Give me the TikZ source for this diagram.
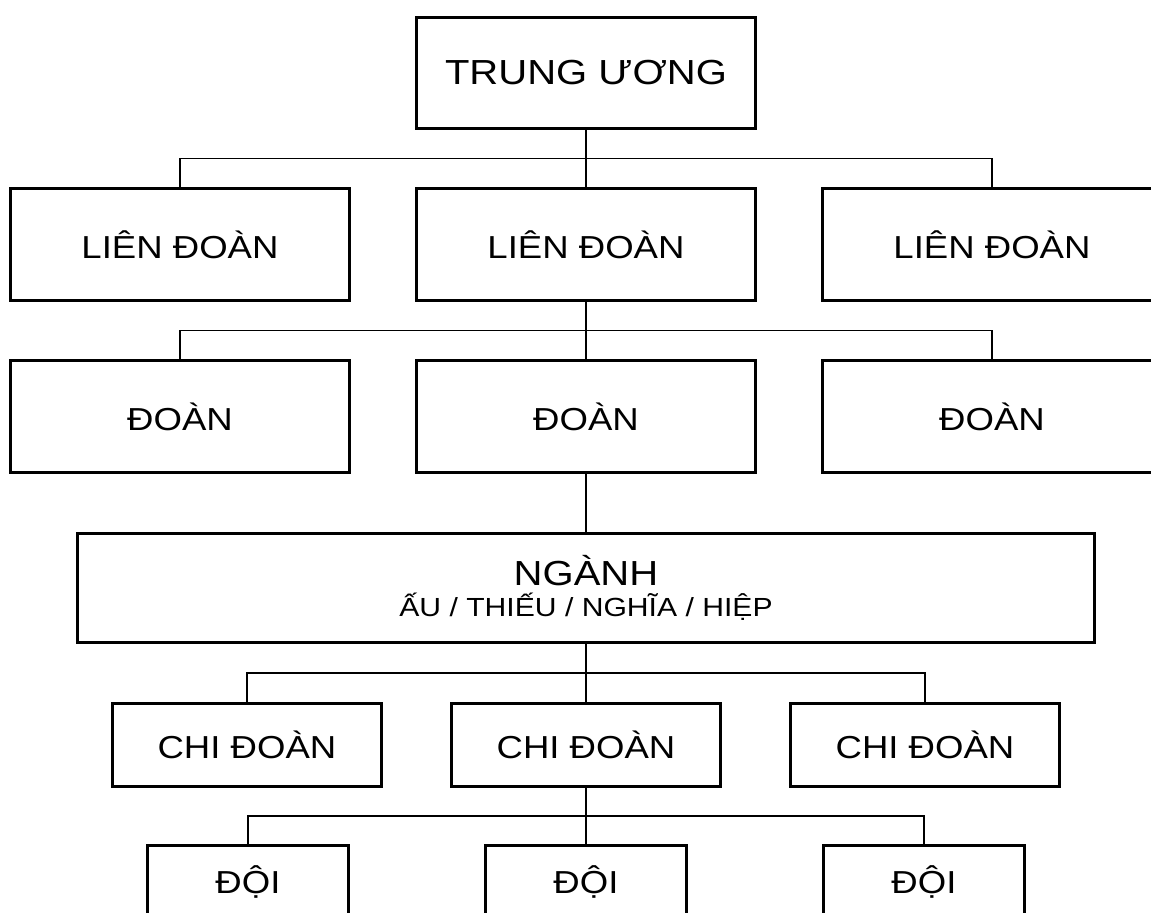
\documentclass[tikz,border=0pt]{standalone}
\usepackage{fontspec}
\setmainfont{Liberation Sans}[FakeStretch=1.15]
\usetikzlibrary{positioning}

\begin{document}
\begin{tikzpicture}[node distance=30pt and 33.5pt,
  b/.style={draw, line width=1.5pt, inner sep=0pt, outer sep=0pt, minimum width=169.5pt, minimum height=56pt, font=\fontsize{15.9}{18}\selectfont},
  n/.style={b, minimum width=508pt, minimum height=54.5pt, align=center, font=\fontsize{13.1}{15.5}\selectfont},
  cd/.style={b, minimum width=134.5pt, minimum height=41.5pt},
  d/.style={b, minimum width=100.5pt, minimum height=36pt},
  l/.style={line width=.75pt}]
  \useasboundingbox (-293pt,36.5pt) rectangle (282.5pt,-420pt);
  \node[b, minimum height=55.5pt, font=\fontsize{17.4}{20}\selectfont] (T) {TRUNG ƯƠNG};
  \node[b, below=of T] (L2) {LIÊN ĐOÀN};
  \node[b, left=of L2] (L1) {LIÊN ĐOÀN};
  \node[b, right=of L2] (L3) {LIÊN ĐOÀN};
  \node[b, below=of L2] (D2) {ĐOÀN};
  \node[b, left=of D2] (D1) {ĐOÀN};
  \node[b, right=of D2] (D3) {ĐOÀN};
  \node[n, below=30.5pt of D2] (N) {{\fontsize{17.4}{15.5}\selectfont NGÀNH}\\ẤU / THIẾU / NGHĨA / HIỆP};
  \node[cd, below=30.5pt of N] (C2) {CHI ĐOÀN};
  \node[cd, left=35pt of C2] (C1) {CHI ĐOÀN};
  \node[cd, right=35pt of C2] (C3) {CHI ĐOÀN};
  \node[d, below=29.5pt of C2] (E2) {ĐỘI};
  \node[d, left=68.5pt of E2] (E1) {ĐỘI};
  \node[d, right=68.5pt of E2] (E3) {ĐỘI};

  \draw[l] (T) -- (L2);
  \draw[l] (L1.north) -- ++(0,15pt) -| (L3.north);
  \draw[l] (L2) -- (D2);
  \draw[l] (D1.north) -- ++(0,15pt) -| (D3.north);
  \draw[l] (D2) -- (N);
  \draw[l] (N) -- (C2);
  \draw[l] (C1.north) -- ++(0,15.25pt) -| (C3.north);
  \draw[l] (C2) -- (E2);
  \draw[l] (E1.north) -- ++(0,14.75pt) -| (E3.north);
\end{tikzpicture}
\end{document}
